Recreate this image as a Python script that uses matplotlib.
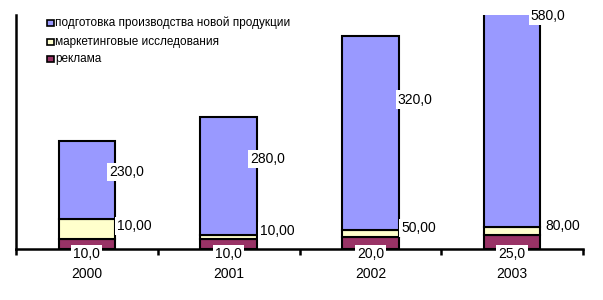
import matplotlib
matplotlib.use("Agg")
import matplotlib.pyplot as plt
from matplotlib.patches import Rectangle
import numpy as np

plt.rcParams['font.family'] = ['Liberation Sans', 'DejaVu Sans']

years = ["2000", "2001", "2002", "2003"]
series_names = ["подготовка производства новой продукции",
                "маркетинговые исследования",
                "реклама"]
# bar heights as drawn (chart units)
reklama = [10, 10, 12, 14]
marketing = [20.5, 4, 7, 8.5]
production = [78, 118, 194, 240]
# data label texts as printed on the chart
reklama_labels = ["10,0", "10,0", "20,0", "25,0"]
marketing_labels = ["10,00", "10,00", "50,00", "80,00"]
production_labels = ["230,0", "280,0", "320,0", "580,0"]

colors = {"production": "#9999FF", "marketing": "#FFFFCC", "reklama": "#993366"}

# layout of labels (chart units)
prod_label_dx = [0.282, 0.275, 0.317, 0.254]
prod_label_y = [77, 90, 149.5, 233]
mark_label_dx = [0.332, 0.346, 0.339, 0.360]
mark_label_y = [23, 18, 20.7, 23]

W, H = 603, 300
fig = plt.figure(figsize=(W / 100, H / 100), dpi=100)
base_px, top_px, left_px, right_px = 249, 15, 16, 583
ax = fig.add_axes([left_px / W, 1 - base_px / H, (right_px - left_px) / W, (base_px - top_px) / H])

x = np.arange(len(years))
bw = 0.40
lw = 1.5
r = np.array(reklama, float)
m = np.array(marketing, float)
p = np.array(production, float)
ax.bar(x, r, bw, color=colors["reklama"], edgecolor="black", linewidth=lw, zorder=2)
ax.bar(x, m, bw, bottom=r, color=colors["marketing"], edgecolor="black", linewidth=lw, zorder=2)
ax.bar(x, p, bw, bottom=r + m, color=colors["production"], edgecolor="black", linewidth=lw, zorder=2)

ax.set_xlim(-0.5, len(years) - 0.5)
ax.set_ylim(0, base_px - top_px)

for s in ["top", "right"]:
    ax.spines[s].set_visible(False)
ax.spines["left"].set_linewidth(1.8)
ax.spines["bottom"].set_linewidth(1.8)
ax.spines["left"].set_zorder(5)
ax.spines["bottom"].set_zorder(3)
ax.set_yticks([])
ax.set_xticks(np.arange(-0.5, len(years), 1.0))
ax.set_xticklabels([])
ax.tick_params(axis="x", which="major", direction="out", length=4, width=1.8)

box = dict(boxstyle="square,pad=0.15", facecolor="white", edgecolor="none")
fs = 10
for i in range(len(years)):
    ax.text(x[i] + prod_label_dx[i], prod_label_y[i], production_labels[i], ha="center", va="center",
            fontsize=fs, bbox=box, zorder=6, clip_on=False)
    ax.text(x[i] + mark_label_dx[i], mark_label_y[i], marketing_labels[i], ha="center", va="center",
            fontsize=fs, bbox=box, zorder=6, clip_on=False)
    ax.text(x[i], -5, reklama_labels[i], ha="center", va="center",
            fontsize=fs, bbox=box, zorder=6, clip_on=False)
    ax.text(x[i], -25, years[i], ha="center", va="center", fontsize=fs, zorder=6, clip_on=False)

# legend (manual)
leg_colors = [colors["production"], colors["marketing"], colors["reklama"]]
rows_y = [22.7, 41.7, 58.7]
for name, c, yy in zip(series_names, leg_colors, rows_y):
    fig.add_artist(Rectangle((47 / W, 1 - (yy + 3.5) / H), 6.5 / W, 6.5 / H,
                             facecolor=c, edgecolor="black", linewidth=1.2,
                             transform=fig.transFigure))
    fig.text(55 / W, 1 - yy / H, name, ha="left", va="center", fontsize=8.5)

fig.savefig("out.png", dpi=100)
